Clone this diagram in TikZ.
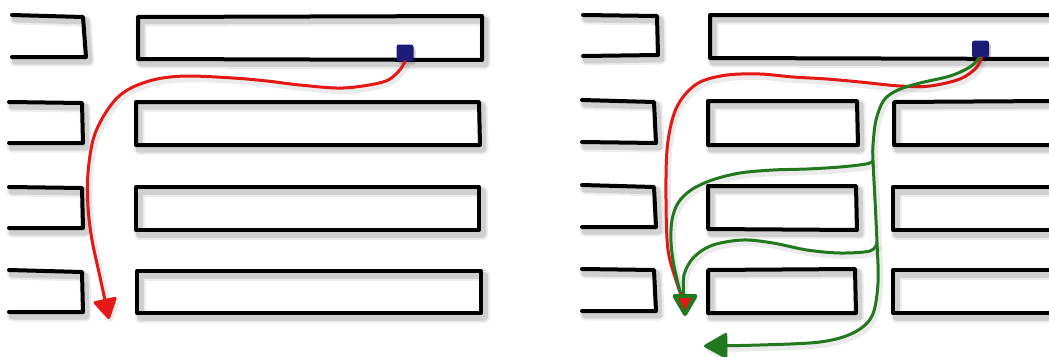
\documentclass[tikz,border=0pt]{standalone}
\usetikzlibrary{arrows.meta}
\definecolor{pathred}{RGB}{228,24,20}
\definecolor{pathgreen}{RGB}{34,120,30}
\definecolor{srcblue}{RGB}{28,28,120}
\tikzset{
  wall/.style={
    preaction={draw=black, opacity=0.07, line width=11pt, line cap=round, line join=round, transform canvas={shift={(3,4)}}},
    preaction={draw=black, opacity=0.12, line width=7pt, line cap=round, line join=round, transform canvas={shift={(3,4)}}},
    draw=black, line width=4pt, line cap=round, line join=round},
  route/.style={
    preaction={draw=black, opacity=0.08, line width=6pt, transform canvas={shift={(2,3)}}},
    line width=3pt, line cap=round, line join=round},
  srcbox/.style={rectangle, fill=srcblue, minimum size=17pt, inner sep=0pt, rounded corners=2.5pt,
    preaction={fill=black, opacity=0.18, transform canvas={shift={(2,3)}}}},
  redtip/.style={-{Triangle[length=22pt,width=25pt,round]}},
  greentip/.style={-{Triangle[length=25pt,width=27pt,round]}},
  mixhead/.style={draw=pathgreen, fill=pathred, line width=4pt, line join=round,
    preaction={fill=black, opacity=0.08, transform canvas={shift={(2,3)}}}},
}
\begin{document}
\begin{tikzpicture}[x=1pt,y=-1pt]
\useasboundingbox (0,0) rectangle (1049,356);

% ---- left floor plan: single route ----
% shelf ends along the left wall
\draw[wall] (12,15) -- (83,17) -- (86,57) -- (12,57);
\draw[wall] (9,102) -- (82,103) -- (83,143) -- (9,143);
\draw[wall] (9,187) -- (82,188) -- (83,228) -- (9,228);
\draw[wall] (9,270) -- (82,272) -- (83,312) -- (9,312);
% long shelves
\draw[wall] (138,17) -- (482,16) -- (482,60) -- (138,59) -- cycle;
\draw[wall] (136,102) -- (479,102) -- (480,145) -- (136,145) -- cycle;
\draw[wall] (136,187) -- (479,187) -- (479,230) -- (136,230) -- cycle;
\draw[wall] (137,271) -- (481,271) -- (481,313) -- (137,313) -- cycle;

\node[srcbox] (srcL) at (405,53) {};
\coordinate (endL) at (109,319);
\draw[route, draw=pathred, redtip] plot[smooth, tension=0.55] coordinates {
  (srcL.south) (398,72) (383,82) (343,88) (300,85) (267,81) (233,78) (187,76)
  (157,79) (133,87) (117,98) (103,117) (93,140) (88,173) (88,207) (92,240) (100,277) (endL)};

% ---- right floor plan: split shelves, several routes ----
\draw[wall] (583,15) -- (657,16) -- (658,55) -- (583,56);
\draw[wall] (582,100) -- (654,102) -- (656,143) -- (582,142);
\draw[wall] (582,185) -- (654,187) -- (656,227) -- (582,227);
\draw[wall] (582,269) -- (654,270) -- (656,311) -- (582,311);
\draw[wall] (1053,15) -- (710,15) -- (710,58) -- (1053,59);
\draw[wall] (708,101) -- (857,101) -- (858,145) -- (708,145) -- cycle;
\draw[wall] (708,186) -- (856,186) -- (857,230) -- (708,229) -- cycle;
\draw[wall] (708,270) -- (855,269) -- (856,313) -- (708,313) -- cycle;
\draw[wall] (1053,101) -- (894,102) -- (894,145) -- (1053,145);
\draw[wall] (1053,187) -- (893,187) -- (893,230) -- (1053,230);
\draw[wall] (1053,270) -- (893,270) -- (893,313) -- (1053,313);

\node[srcbox] (srcR) at (980.5,49) {};
\coordinate (endR) at (685,314);
\coordinate (endB) at (704,346);
\coordinate (forkA) at (873,161);
\coordinate (forkB) at (877,243);

% red route (its head is the shared one drawn below)
\draw[route, draw=pathred] plot[smooth, tension=0.55] coordinates {
  ([xshift=1pt]srcR.south) (976,68) (960,79) (930,86) (900,86) (860,82) (827,79) (793,77)
  (760,74) (727,75) (700,82) (683,97) (673,117) (667,150) (666,200) (668,250) (677,283) (684,302)};

% green trunk down the cross aisle
\draw[route, draw=pathgreen, greentip] plot[smooth, tension=0.55] coordinates {
  ([xshift=-1pt]srcR.south) (970,67) (950,76) (920,83) (898,90) (884,100) (876,120) (873,145)
  (forkA) (875,200) (forkB) (878,283) (872,316) (853,333) (820,342) (760,345) (endB)};

% green branch through the upper aisle
\draw[route, draw=pathgreen] plot[smooth, tension=0.55] coordinates {
  (forkA) (866,164) (840,167) (807,169) (773,170) (740,173) (712,180) (691,190) (678,203)
  (672,220) (671,242) (674,266) (680,292)};

% green branch through the lower aisle
\draw[route, draw=pathgreen] plot[smooth, tension=0.55] coordinates {
  (forkB) (870,251) (840,253) (807,250) (773,243) (743,240) (713,245) (694,257)
  (684,275) (684,300)};

% shared head where the red and green routes meet
\draw[mixhead] (endR) ++(-10.5,-18) -- ++(21,0) -- (endR) -- cycle;
\end{tikzpicture}
\end{document}
